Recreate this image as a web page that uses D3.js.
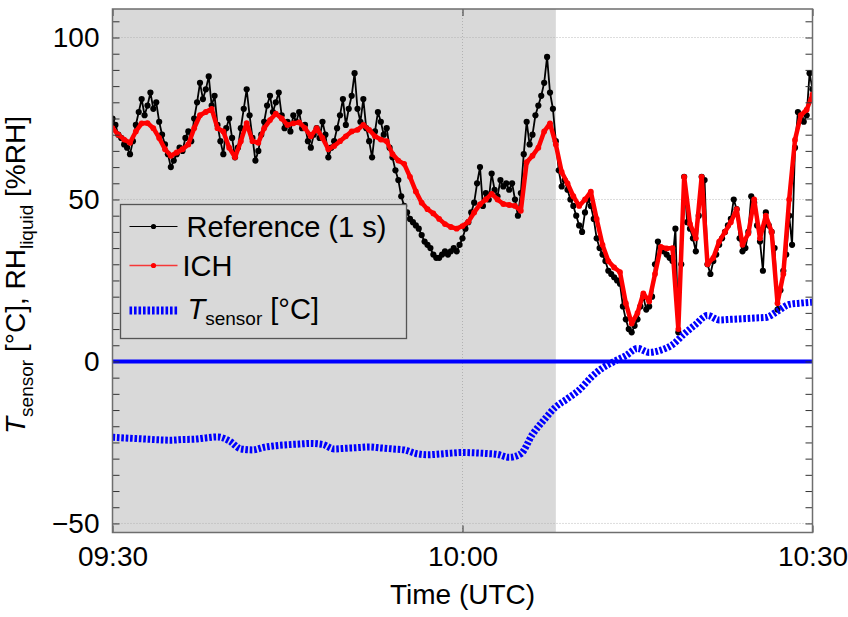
<!DOCTYPE html>
<html>
<head>
<meta charset="utf-8">
<script src="https://cdn.jsdelivr.net/npm/d3@7"></script>
<style>
  body { margin: 0; background: #fff; }
  #chart { width: 848px; height: 617px; }
  text { font-family: "Liberation Sans", Arial, Helvetica, sans-serif; }
</style>
</head>
<body>
<div id="chart"></div>
<script>
// minutes after 09:30 UTC, one value per step
const refStep = 0.25;
const refRH = [
  75, 73, 70, 69,  67, 66, 64, 68,  73, 77, 81, 76,  79, 83, 78, 80,
  74, 70, 67, 64,  60, 62, 64, 66,  65, 69, 71, 68,  75, 80, 86, 81,
  84, 88, 79, 82,  73, 68, 64, 72,  75, 69, 63, 66,  72, 78, 84, 76,
  69, 62, 65, 70,  74, 79, 82, 77,  80, 83, 76, 72,  74, 71, 76, 74,
  77, 72, 73, 68,  66, 70, 72, 69,  74, 70, 63, 66,  68, 72, 76, 81,
  73, 78, 82, 89,  78, 74, 81, 72,  68, 63, 71, 77,  74, 70, 72, 66,
  63, 59, 56, 51,  48, 46, 44, 43,  42, 41, 39, 37,  36, 35, 33, 32,
  32, 33, 34, 33,  34, 35, 34, 36,  38, 41, 43, 46,  49, 55, 60, 48,
  52, 50, 58, 53,  51, 56, 54, 55,  53, 55, 50, 45,  52, 64, 74, 67,
  70, 76, 79, 82,  86, 94, 83, 78,  68, 59, 54, 56,  53, 50, 48, 45,
  42, 40, 46, 50,  48, 44, 38, 35,  33, 31, 28, 27,  26, 25, 24, 17,
  13, 10, 9, 11,   13, 17, 20, 16,  17, 20, 30, 37,  35, 34, 33, 32,
  31, 41, 9, 30,   57, 43, 41, 38,  34, 45, 57, 56,  30, 27, 31, 33,
  36, 38, 40, 42,  44, 50, 47, 38,  34, 35, 40, 51,  49, 42, 37, 28,
  46, 42, 40, 35,  16, 22, 28, 33,  45, 36, 66, 77,  75, 74, 76, 89,
  84
];

const ichStep = 0.5;
const ichRH = [
  72, 70, 68.5, 67.5, 71, 73.5, 73.6, 72, 69, 65.5,
  63.5, 64.5, 65.5, 67, 72, 76, 77, 78, 72, 71,
  66, 63, 68, 73.6, 68, 67.5, 72, 74.5, 76.5, 75,
  73, 73.5, 73.8, 72, 69.5, 72, 69, 65.5, 66.5, 68,
  69.5, 71, 71.5, 73, 71.5, 69.5, 68.5, 68, 64, 62,
  61, 57, 52.5, 49, 47, 45.7, 44, 42.4, 41.5, 41,
  41.8, 43.1, 46, 48.5, 50, 51.7, 50, 48.6, 48.3, 48,
  46.5, 61.5, 63.5, 66, 71, 73.5, 67, 58.5, 55, 51,
  48, 50, 52.4, 44, 36, 31, 29, 27.6, 18, 11.7,
  15, 21, 18.5, 27, 35.4, 34.9, 35, 10, 57, 42.5,
  38, 57, 30, 32, 37, 40, 43, 47, 36, 39.5,
  50, 38, 45, 40, 18, 27, 50, 68.4, 76, 77.7,
  82.4
];

const sensorStep = 1;
const tSensor = [
  -23.4, -23.6, -23.8, -24, -24.2, -24.3, -24.1, -24, -23.6, -23.3,
  -24.5, -27, -27.3, -26.5, -26, -25.7, -25.5, -25.3, -25.6, -27,
  -26.8, -26.6, -26.4, -26.7, -27, -27.3, -28.4, -28.8, -28.6, -28.3,
  -28.1, -28.2, -28.4, -28.7, -29.6, -28.5, -22.5, -18, -14, -11.5,
  -8.8, -5, -2, 0, 1.8, 4, 2.8, 3.5, 5.2, 8.5,
  11.5, 14.2, 12.8, 13, 13.2, 13.4, 13.6, 15.5, 17.6, 18,
  18.3
];

const xTickLabels = ["09:30", "10:00", "10:30"];
const yTickLabels = [-50, 0, 50, 100];
const shadeEnd = "10:08";
const legendLabels = ["Reference (1 s)", "ICH"];

class SensorChart {
  constructor(id) {
    this.div = id;
    this.parse = d3.utcParse("%H:%M");
    this.t0 = this.parse(xTickLabels[0]);
  }

  series(values, step) {
    return values.map((v, i) => ({ t: new Date(this.t0.getTime() + i * step * 60000), v }));
  }

  add_svg() {
    const div = d3.select(`#${this.div}`);
    div.selectAll("*").remove();
    this.width = 848;
    this.height = 617;
    this.margin = { left: 112.5, right: 35.5, top: 9, bottom: 84.5 };
    this.innerW = this.width - this.margin.left - this.margin.right;
    this.innerH = this.height - this.margin.top - this.margin.bottom;
    this.svg = div.append("svg").attr("width", this.width).attr("height", this.height);
    this.svg.append("clipPath").attr("id", "clipper")
      .append("rect").attr("width", this.innerW).attr("height", this.innerH);
    this.ChartArea = this.svg.append("g")
      .attr("transform", `translate(${this.margin.left},${this.margin.top})`);
  }

  add_scale() {
    this.x = d3.scaleUtc()
      .domain([this.parse(xTickLabels[0]), this.parse(xTickLabels[2])])
      .range([0, this.innerW]);
    this.y = d3.scaleLinear().domain([-52.8, 108.8]).range([this.innerH, 0]);
  }

  draw_background() {
    const g = this.ChartArea;
    g.append("rect")
      .attr("width", this.x(this.parse(shadeEnd)))
      .attr("height", this.innerH)
      .attr("fill", "#d9d9d9");
    // dotted grid
    g.selectAll(".gy").data(yTickLabels).join("line")
      .attr("x1", 0).attr("x2", this.innerW)
      .attr("y1", d => this.y(d)).attr("y2", d => this.y(d))
      .attr("stroke", "#a8a8a8").attr("stroke-width", 0.8).attr("stroke-dasharray", "1,2");
    g.selectAll(".gx").data(xTickLabels.slice(1, 2)).join("line")
      .attr("x1", d => this.x(this.parse(d))).attr("x2", d => this.x(this.parse(d)))
      .attr("y1", 0).attr("y2", this.innerH)
      .attr("stroke", "#a8a8a8").attr("stroke-width", 0.8).attr("stroke-dasharray", "1,2");
  }

  draw_chart() {
    const g = this.ChartArea.append("g").attr("clip-path", "url(#clipper)");
    const line = d3.line().x(d => this.x(d.t)).y(d => this.y(d.v));

    // zero line
    g.append("line")
      .attr("x1", 0).attr("x2", this.innerW)
      .attr("y1", this.y(0)).attr("y2", this.y(0))
      .attr("stroke", "#0000ff").attr("stroke-width", 4);

    const ref = this.series(refRH, refStep);
    g.append("path").datum(ref).attr("d", line)
      .attr("fill", "none").attr("stroke", "#000").attr("stroke-width", 1.8)
      .attr("stroke-linejoin", "round");
    g.append("g").selectAll("circle").data(ref).join("circle")
      .attr("cx", d => this.x(d.t)).attr("cy", d => this.y(d.v))
      .attr("r", 3.1).attr("fill", "#000");

    const ich = this.series(ichRH, ichStep);
    g.append("path").datum(ich).attr("d", line)
      .attr("fill", "none").attr("stroke", "#ff0000").attr("stroke-width", 4.5)
      .attr("stroke-linejoin", "round").attr("stroke-linecap", "round");
    g.append("g").selectAll("circle").data(ich).join("circle")
      .attr("cx", d => this.x(d.t)).attr("cy", d => this.y(d.v))
      .attr("r", 2.9).attr("fill", "#ff0000");

    const ts = this.series(tSensor, sensorStep);
    g.append("path").datum(ts).attr("d", d3.line().curve(d3.curveMonotoneX).x(d => this.x(d.t)).y(d => this.y(d.v)))
      .attr("fill", "none").attr("stroke", "#0000ff").attr("stroke-width", 7)
      .attr("stroke-dasharray", "2.6,1.8");
  }

  add_axis() {
    const minor = d3.range(-50, 106, 5);
    const fmt = d3.format("");
    const yLab = d => (yTickLabels.includes(d) ? fmt(d) : "");
    const style = (sel) => {
      sel.select(".domain").remove();
      sel.selectAll(".tick line").attr("stroke", "#333").attr("stroke-width", 1);
      sel.selectAll(".tick text").attr("fill", "#000").attr("font-size", 28)
        .attr("font-family", '"Liberation Sans", Arial, sans-serif');
    };
    this.ChartArea.append("g")
      .call(d3.axisLeft(this.y).tickValues(minor).tickSize(-7).tickPadding(13).tickFormat(yLab))
      .call(style);
    this.ChartArea.append("g").attr("transform", `translate(${this.innerW},0)`)
      .call(d3.axisRight(this.y).tickValues(minor).tickSize(-7).tickFormat(""))
      .call(style);
    const xt = xTickLabels.map(this.parse);
    this.ChartArea.append("g").attr("transform", `translate(0,${this.innerH})`)
      .call(d3.axisBottom(this.x).tickValues(xt).tickSize(-7).tickPadding(14).tickFormat(d3.utcFormat("%H:%M")))
      .call(style);
    this.ChartArea.append("g")
      .call(d3.axisTop(this.x).tickValues(xt).tickSize(-7).tickFormat(""))
      .call(style);
    // frame
    this.ChartArea.append("rect")
      .attr("width", this.innerW).attr("height", this.innerH)
      .attr("fill", "none").attr("stroke", "#6e6e6e").attr("stroke-width", 1.5);
  }

  add_label() {
    this.svg.append("text")
      .attr("x", this.margin.left + this.innerW / 2).attr("y", 604)
      .attr("text-anchor", "middle").attr("font-size", 28)
      .text("Time (UTC)");

    const yl = this.svg.append("text")
      .attr("transform", "translate(25,275) rotate(-90)")
      .attr("text-anchor", "middle").attr("font-size", 28);
    yl.append("tspan").attr("font-style", "italic").text("T");
    yl.append("tspan").attr("font-size", 19).attr("dy", 8).text("sensor");
    yl.append("tspan").attr("dy", -8).text(" [°C], RH");
    yl.append("tspan").attr("font-size", 19).attr("dy", 8).text("liquid");
    yl.append("tspan").attr("dy", -8).text(" [%RH]");
  }

  add_legend() {
    const lg = this.svg.append("g").attr("transform", "translate(120.5,204.5)");
    lg.append("rect").attr("width", 286).attr("height", 134)
      .attr("fill", "#d9d9d9").attr("stroke", "#555").attr("stroke-width", 1.3);
    const rows = [
      { y: 22, color: "#000", label: legendLabels[0], tx: 66 },
      { y: 61, color: "#ff0000", label: legendLabels[1], tx: 62 }
    ];
    rows.forEach(r => {
      lg.append("line").attr("x1", 9).attr("x2", 57).attr("y1", r.y).attr("y2", r.y)
        .attr("stroke", r.color).attr("stroke-width", r.color === "#000" ? 1 : 1.3)
        .attr("stroke-opacity", r.color === "#000" ? 1 : 0.75);
      lg.append("circle").attr("cx", 33).attr("cy", r.y).attr("r", 2.6).attr("fill", r.color);
      lg.append("text").attr("x", r.tx).attr("y", r.y + 10.5).attr("font-size", 29).text(r.label);
    });
    lg.append("line").attr("x1", 9).attr("x2", 57).attr("y1", 106).attr("y2", 106)
      .attr("stroke", "#0000ff").attr("stroke-width", 8).attr("stroke-dasharray", "2.6,1.9");
    const t = lg.append("text").attr("x", 67).attr("y", 114.5).attr("font-size", 29);
    t.append("tspan").attr("font-style", "italic").text("T");
    t.append("tspan").attr("font-size", 19).attr("dy", 6).text("sensor");
    t.append("tspan").attr("dy", -6).text(" [°C]");
  }

  render() {
    this.add_svg();
    this.add_scale();
    this.draw_background();
    this.draw_chart();
    this.add_axis();
    this.add_label();
    this.add_legend();
  }
}

new SensorChart("chart").render();
</script>
</body>
</html>
